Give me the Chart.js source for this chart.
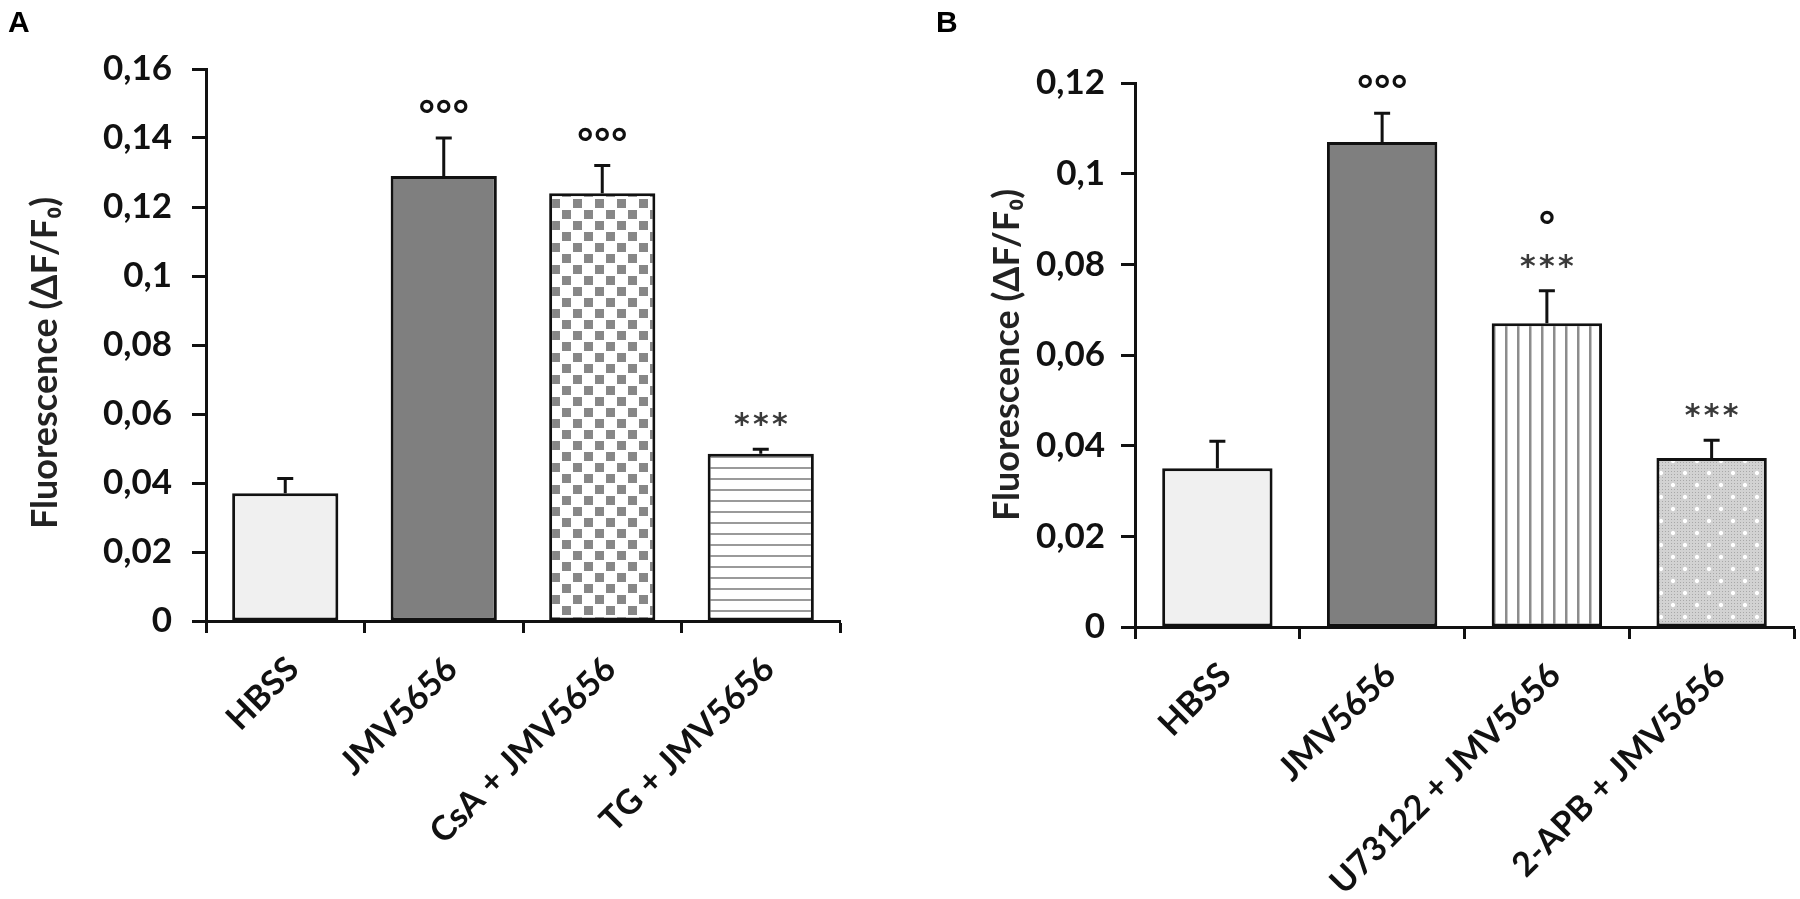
<!DOCTYPE html>
<html>
<head>
<meta charset="utf-8">
<script src="https://cdn.jsdelivr.net/npm/chart.js@4.4.1/dist/chart.umd.min.js"></script>
<style>
  body { margin: 0; background: #fff; width: 1800px; height: 899px; overflow: hidden; position: relative; }
  .panel { position: absolute; top: 0; width: 900px; height: 899px; }
</style>
</head>
<body>
<div class="panel" style="left:0"><canvas id="chartA" width="900" height="899"></canvas></div>
<div class="panel" style="left:900px"><canvas id="chartB" width="900" height="899"></canvas></div>
<script>
// ===== Data =====
const categoriesA = ["HBSS", "JMV5656", "CsA + JMV5656", "TG + JMV5656"];
const valuesA = [0.037, 0.129, 0.124, 0.0485];
const errorsA = [0.0043, 0.011, 0.008, 0.0013];
const marksA = ["", "°°°", "°°°", "***"];
const marksA2 = ["", "", "", ""];
const yMaxA = 0.16;

const categoriesB = ["HBSS", "JMV5656", "U73122 + JMV5656", "2-APB + JMV5656"];
const valuesB = [0.035, 0.107, 0.067, 0.0373];
const errorsB = [0.006, 0.0063, 0.0072, 0.0039];
const marksB = ["", "°°°", "***", "***"];
const marksB2 = ["", "", "°", ""];
const yMaxB = 0.12;

const yStep = 0.02;
const yTitle = "Fluorescence (ΔF/F₀)";

// ===== Fill patterns =====
function makePattern(size, draw) {
    const c = document.createElement("canvas");
    c.width = size;
    c.height = size;
    const g = c.getContext("2d");
    g.fillStyle = "#fff";
    g.fillRect(0, 0, size, size);
    draw(g, size);
    return g.createPattern(c, "repeat");
}

const checker = makePattern(22, (g) => {
    g.fillStyle = "#878787";
    g.fillRect(1, 1, 9, 9);
    g.fillRect(12, 12, 9, 9);
});

const hLines = makePattern(11, (g, s) => {
    g.fillStyle = "#9a9a9a";
    g.fillRect(0, 5, s, 2);
});

const vLines = makePattern(12, (g, s) => {
    g.fillStyle = "#8c8c8c";
    g.fillRect(5, 0, 2.5, s);
});

const dots = makePattern(24, (g, s) => {
    g.fillStyle = "#d2d2d2";
    g.fillRect(0, 0, s, s);
    g.fillStyle = "#a8a8a8";
    for (let x = 0; x < s; x += 3) {
        for (let y = 0; y < s; y += 3) g.fillRect(x, y, 1, 1);
    }
    g.fillStyle = "#fff";
    g.beginPath();
    g.arc(5, 5, 2.2, 0, Math.PI * 2);
    g.arc(17, 17, 2.2, 0, Math.PI * 2);
    g.fill();
});

const fillsA = ["#f0f0f0", "#7f7f7f", checker, hLines];
const fillsB = ["#f0f0f0", "#7f7f7f", vLines, dots];

// ===== Error bars + significance marks =====
const extrasPlugin = {
    id: "extras",
    afterDatasetsDraw(chart, args, opts) {
        const ctx = chart.ctx;
        const y = chart.scales.y;
        const meta = chart.getDatasetMeta(0);
        ctx.save();
        meta.data.forEach((bar, i) => {
            const top = y.getPixelForValue(opts.values[i] + opts.errors[i]);
            ctx.strokeStyle = "#111";
            ctx.lineWidth = 3;
            ctx.beginPath();
            ctx.moveTo(bar.x, bar.y);
            ctx.lineTo(bar.x, top);
            ctx.moveTo(bar.x - 8, top);
            ctx.lineTo(bar.x + 8, top);
            ctx.stroke();

            [opts.marks[i], opts.marks2[i]].forEach((m, row) => {
                if (!m) return;
                const cy = top - 32 - row * 42;
                const isStar = m[0] === "*";
                const gap = isStar ? 19 : 17;
                ctx.font = isStar ? "bold 30px 'DejaVu Sans'" : "bold 41px 'DejaVu Sans'";
                ctx.fillStyle = isStar ? "#3a3a3a" : "#111";
                ctx.textAlign = "center";
                ctx.textBaseline = "alphabetic";
                const base = cy + (isStar ? 17 : 24);
                for (let k = 0; k < m.length; k++) {
                    ctx.fillText(m[k], bar.x + (k - (m.length - 1) / 2) * gap, base);
                }
            });
        });

        // panel letter
        ctx.font = "bold 30px 'Liberation Sans'";
        ctx.fillStyle = "#000";
        ctx.textAlign = "left";
        ctx.fillText(opts.letter, opts.letterX, 32);
        ctx.restore();
    }
};

function fmtTick(v) {
    return parseFloat(v.toFixed(2)).toString().replace(".", ",");
}

function makeChart(id, p) {
    new Chart(document.getElementById(id), {
        type: "bar",
        data: {
            labels: p.categories,
            datasets: [{
                data: p.values,
                backgroundColor: p.fills,
                borderColor: "#111",
                borderWidth: 3,
                borderSkipped: false,
                barPercentage: 0.67,
                categoryPercentage: 1
            }]
        },
        options: {
            responsive: false,
            animation: false,
            layout: { padding: p.padding },
            plugins: {
                legend: { display: false },
                tooltip: { enabled: false },
                extras: {
                    values: p.values, errors: p.errors,
                    marks: p.marks, marks2: p.marks2,
                    letter: p.letter, letterX: p.letterX
                }
            },
            scales: {
                x: {
                    afterFit: (s) => { s.height = p.xHeight; },
                    border: { color: "#111", width: 3 },
                    grid: { drawOnChartArea: false, drawTicks: true, tickLength: 12, tickWidth: 3, tickColor: "#111", offset: true },
                    ticks: {
                        autoSkip: false, minRotation: 45, maxRotation: 45, padding: 16, labelOffset: 8,
                        color: "#111",
                        font: { family: "Lato", weight: "bold", size: 34 }
                    }
                },
                y: {
                    min: 0,
                    max: p.yMax,
                    afterFit: (s) => { s.width = p.yWidth; },
                    border: { color: "#111", width: 3 },
                    grid: { drawOnChartArea: false, drawTicks: true, tickLength: 14, tickWidth: 3, tickColor: "#111" },
                    ticks: {
                        stepSize: yStep,
                        padding: p.tickPad,
                        color: "#111",
                        font: { family: "Lato", weight: "bold", size: 35 },
                        callback: (v) => fmtTick(v)
                    },
                    title: {
                        display: true,
                        text: p.title,
                        color: "#222",
                        padding: { top: p.titlePad, bottom: 0 },
                        font: { family: "Lato", weight: "bold", size: 36 }
                    }
                }
            }
        },
        plugins: [extrasPlugin]
    });
}

makeChart("chartA", {
    categories: categoriesA, values: valuesA, errors: errorsA,
    marks: marksA, marks2: marksA2, fills: fillsA, yMax: yMaxA,
    title: yTitle + "\u2002\u2002",
    padding: { left: 0, right: 60, top: 69, bottom: 0 },
    yWidth: 206, xHeight: 278, tickPad: 20, titlePad: 24,
    letter: "A", letterX: 8
});

makeChart("chartB", {
    categories: categoriesB, values: valuesB, errors: errorsB,
    marks: marksB, marks2: marksB2, fills: fillsB, yMax: yMaxB,
    title: yTitle,
    padding: { left: 0, right: 6, top: 83, bottom: 0 },
    yWidth: 235, xHeight: 272, tickPad: 16, titlePad: 86,
    letter: "B", letterX: 36
});
</script>
</body>
</html>
